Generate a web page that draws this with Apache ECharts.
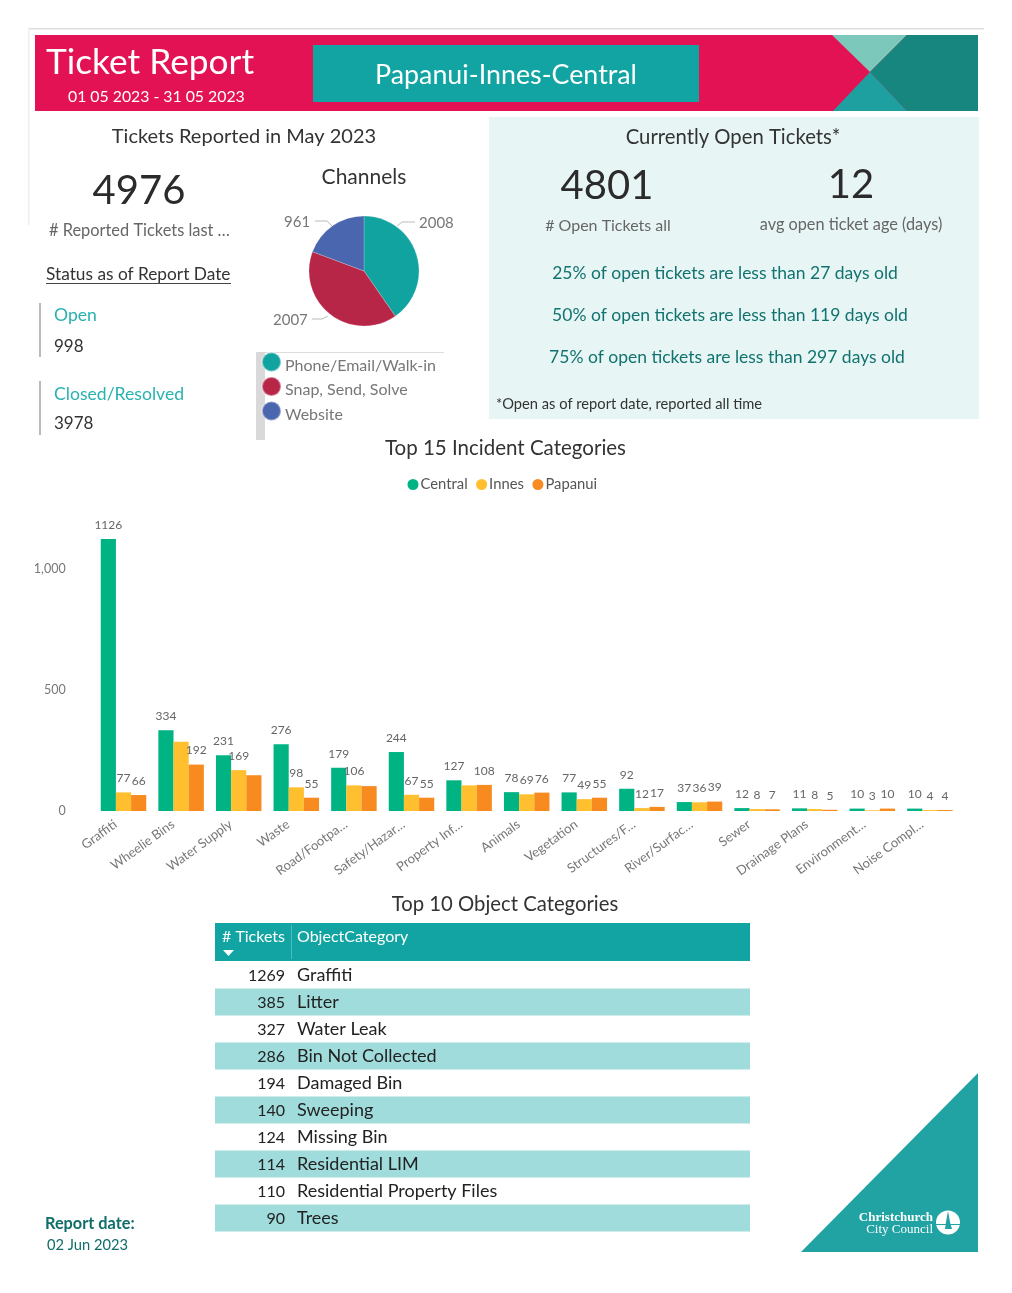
<!DOCTYPE html>
<html>
<head>
<meta charset="utf-8">
<title>Ticket Report</title>
<script src="https://cdn.jsdelivr.net/npm/echarts@6/dist/echarts.min.js"></script>
<style>
  html, body { margin: 0; padding: 0; background: #fff; overflow: hidden; }
  #main { width: 1012px; height: 1293px; }
</style>
</head>
<body>
<div id="main"></div>
<script>
const incidentCats = ['Graffiti', 'Wheelie Bins', 'Water Supply', 'Waste', 'Road/Footpa…', 'Safety/Hazar…', 'Property Inf…', 'Animals', 'Vegetation', 'Structures/F…', 'River/Surfac…', 'Sewer', 'Drainage Plans', 'Environment…', 'Noise Compl…'];
const central = [1126, 334, 231, 276, 179, 244, 127, 78, 77, 92, 37, 12, 11, 10, 10];
const innes = [77, 287, 169, 98, 106, 67, 106, 69, 49, 12, 36, 8, 8, 3, 4];
const papanui = [66, 192, 148, 55, 103, 55, 108, 76, 55, 17, 39, 7, 5, 10, 4];
// etiquetas que el reporte no muestra (se pisan con otras)
const innesSinLabel = [1, 6];
const papanuiSinLabel = [2, 4];

const channelNames = ['Phone/Email/Walk-in', 'Snap, Send, Solve', 'Website'];
const channelValues = [2008, 2007, 961];

const objectCats = ['Graffiti', 'Litter', 'Water Leak', 'Bin Not Collected', 'Damaged Bin', 'Sweeping', 'Missing Bin', 'Residential LIM', 'Residential Property Files', 'Trees'];
const objectTickets = [1269, 385, 327, 286, 194, 140, 124, 114, 110, 90];

const openLines = ['25% of open tickets are less than 27 days old', '50% of open tickets are less than 119 days old', '75% of open tickets are less than 297 days old'];

const FONT = 'Lato';
const TEAL = '#12A4A2';

function txt(x, y, text, size, color, extra) {
    return {
        type: 'text', x: x, y: y, silent: true,
        style: Object.assign({
            text: text, fontSize: size, fill: color, fontFamily: FONT,
            align: 'left', verticalAlign: 'middle'
        }, extra || {})
    };
}
function caja(x, y, w, h, color) {
    return { type: 'rect', silent: true, shape: { x: x, y: y, width: w, height: h }, style: { fill: color } };
}
function poly(points, color) {
    return { type: 'polygon', silent: true, shape: { points: points }, style: { fill: color } };
}
const center = { align: 'center' };

const graficos = [
    // marco gris de arriba
    caja(28, 28, 956, 1.5, '#dedede'),
    caja(28, 28, 1.5, 197, '#eeeeee'),

    // cabecera
    caja(35, 35, 943, 76, '#E31254'),
    poly([[832, 35], [907, 35], [870, 72]], '#7CC9BC'),
    poly([[907, 35], [978, 35], [978, 111], [907, 111], [870, 72]], '#16867F'),
    poly([[870, 72], [907, 111], [833, 111]], '#1FA0A0'),
    caja(313, 45, 386, 57, TEAL),
    txt(46, 63, 'Ticket Report', 35.3, '#fff'),
    txt(68, 97, '01 05 2023 - 31 05 2023', 15.8, '#fff'),
    txt(506, 75, 'Papanui-Innes-Central', 26.8, '#fff', center),

    // panel izquierdo
    txt(244, 137, 'Tickets Reported in May 2023', 20, '#333', center),
    txt(139, 191, '4976', 40, '#2b2b2b', center),
    txt(49, 231, '# Reported Tickets last …', 16.4, '#666'),
    txt(46, 274.5, 'Status as of Report Date', 17.3, '#333'),
    caja(46, 283, 185, 1, '#444'),
    caja(39, 303, 2, 54, '#bbbbbb'),
    caja(39, 381, 2, 54, '#bbbbbb'),
    txt(54, 315, 'Open', 17.6, '#2AB1B0'),
    txt(54, 347, '998', 17, '#333'),
    txt(54, 394, 'Closed/Resolved', 17.6, '#2AB1B0'),
    txt(54, 424, '3978', 17, '#333'),
    txt(364, 177, 'Channels', 21, '#333', center),
    caja(256, 352, 9, 88, '#d9d9d9'),
    caja(265, 352, 179, 1, '#dddddd'),

    // panel derecho
    caja(489, 117, 490, 302, '#E8F5F5'),
    txt(733, 137, 'Currently Open Tickets*', 20.3, '#333', center),
    txt(607, 186, '4801', 40, '#2b2b2b', center),
    txt(851, 185, '12', 40, '#2b2b2b', center),
    txt(608, 226, '# Open Tickets all', 16, '#666', center),
    txt(851, 225, 'avg open ticket age (days)', 16.3, '#666', center),
    txt(725, 273, openLines[0], 17.5, '#11736F', center),
    txt(730, 315, openLines[1], 17.5, '#11736F', center),
    txt(727, 357, openLines[2], 17.5, '#11736F', center),
    txt(496, 404, '*Open as of report date, reported all time', 14.7, '#333'),

    // titulos
    txt(505.5, 448, 'Top 15 Incident Categories', 20.5, '#333', center),
    txt(505, 904, 'Top 10 Object Categories', 20.3, '#333', center),

    // tabla
    caja(215, 923, 535, 38, TEAL),
    caja(291, 925, 1, 34, '#4dbcba'),
    txt(222, 937, '# Tickets', 16, '#fff'),
    txt(297, 937, 'ObjectCategory', 16, '#fff'),
    poly([[223, 950], [234, 950], [228.5, 956]], '#fff'),

    // fecha
    txt(45, 1224, 'Report date:', 16.3, '#0F6E6A', { fontWeight: 'bold' }),
    txt(47, 1245, '02 Jun 2023', 14.7, '#0F6E6A'),

    // logo
    poly([[978, 1073], [978, 1252], [801, 1252]], '#21A3A3'),
    txt(933, 1218, 'Christchurch', 13, '#fff', { align: 'right', fontFamily: 'Liberation Serif', fontWeight: 'bold' }),
    txt(933, 1229.5, 'City Council', 13, '#fff', { align: 'right', fontFamily: 'Liberation Serif' }),
    { type: 'circle', silent: true, shape: { cx: 948, cy: 1222.5, r: 12 }, style: { fill: '#fff' } },
    poly([[948, 1211], [950, 1222], [952, 1229], [945, 1229], [946, 1222]], '#21A3A3'),
    caja(936, 1224, 24, 1, '#21A3A3')
];

// filas de la tabla
objectCats.forEach(function(cat, i) {
    const y = 975 + i * 27;
    if (i % 2 === 1) graficos.push(caja(215, y - 13.5, 535, 27, '#A0DCDC'));
    graficos.push(txt(285, y + 1, String(objectTickets[i]), 16, '#222', { align: 'right' }));
    graficos.push(txt(297, y, cat, 18, '#222'));
});

function conLabels(valores, ocultos) {
    return valores.map(function(v, i) {
        return ocultos.indexOf(i) > -1 ? { value: v, label: { show: false } } : v;
    });
}
function serieBarra(nombre, valores, color) {
    return {
        name: nombre, type: 'bar', data: valores, barGap: 0, barCategoryGap: '21%',
        itemStyle: { color: color },
        label: { show: true, position: 'top', distance: 8, fontSize: 12, color: '#666', fontFamily: FONT },
        emphasis: { disabled: true }
    };
}

// donde caen las etiquetas del pie en el reporte
const pieLabelPos = [
    { x: 419, y: 223, line: [[397, 226], [402, 222], [415, 222]] },
    { x: 273, y: 320, line: [[328, 316], [322, 319], [312, 319]] },
    { x: 284, y: 222, line: [[332, 226], [327, 221], [315, 221]] }
];

const option = {
    animation: false,
    textStyle: { fontFamily: FONT },
    graphic: { elements: graficos },
    legend: [
        {
            data: ['Central', 'Innes', 'Papanui'], top: 472, left: 402.5,
            icon: 'circle', itemWidth: 11, itemHeight: 11, itemGap: 8.5,
            textStyle: { fontSize: 14.8, color: '#555', fontFamily: FONT, padding: [0, 0, 0, -3] },
            selectedMode: false
        },
        {
            data: channelNames, orient: 'vertical', left: 256, top: 346.5,
            icon: 'circle', itemWidth: 19, itemHeight: 19, itemGap: 2.5,
            formatter: '{t|{name}}',
            textStyle: {
                rich: { t: { fontSize: 16, color: '#777', fontFamily: FONT, padding: [7, 0, 0, 0] } },
                padding: [0, 0, 0, -1]
            },
            selectedMode: false
        }
    ],
    grid: { left: 94.7, right: 53.3, top: 521, height: 290 },
    xAxis: {
        type: 'category', data: incidentCats,
        axisLine: { show: false }, axisTick: { show: false },
        axisLabel: { interval: 0, rotate: 36, margin: 6, fontSize: 13, color: '#777', fontFamily: FONT, padding: [0, 10, 0, 0] }
    },
    yAxis: {
        type: 'value', min: 0, max: 1200, interval: 500,
        splitLine: { show: false }, axisLine: { show: false }, axisTick: { show: false },
        axisLabel: { showMaxLabel: false, margin: 29, fontSize: 12.5, color: '#777', fontFamily: FONT }
    },
    series: [
        serieBarra('Central', central, '#00B383'),
        serieBarra('Innes', conLabels(innes, innesSinLabel), '#FFBF2F'),
        serieBarra('Papanui', conLabels(papanui, papanuiSinLabel), '#F88B1F'),
        {
            type: 'pie', center: [364, 271], radius: 55, startAngle: 90, clockwise: true,
            data: channelNames.map(function(n, i) { return { name: n, value: channelValues[i] }; }),
            color: ['#11A3A0', '#B72547', '#4A66AE'],
            itemStyle: { borderColor: 'rgba(255,255,255,0.4)', borderWidth: 0.5 },
            label: { formatter: '{c}', fontSize: 15, color: '#777', fontFamily: FONT },
            labelLine: { lineStyle: { color: '#bbbbbb', width: 1 } },
            labelLayout: function(params) {
                const p = pieLabelPos[params.dataIndex];
                return { x: p.x, y: p.y, align: 'left', verticalAlign: 'middle', labelLinePoints: p.line };
            },
            emphasis: { disabled: true }
        }
    ]
};

const chart = echarts.init(document.getElementById('main'), null, { renderer: 'canvas' });
chart.setOption(option);
</script>
</body>
</html>
